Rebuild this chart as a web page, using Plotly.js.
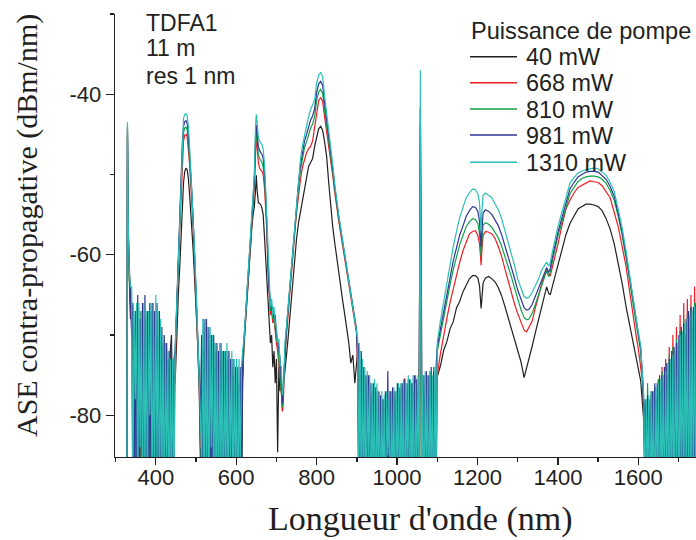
<!DOCTYPE html>
<html>
<head>
<meta charset="utf-8">
<script src="https://cdn.plot.ly/plotly-3.0.1.min.js"></script>
<style>html,body{margin:0;padding:0;background:#fff;}#chart{width:696px;height:540px;}</style>
</head>
<body>
<div id="chart"></div>
<script>
// ---------- DATA ----------
// wavelength grid (nm), written segment by segment
const wavelength = [].concat(
  [328, 329.5, 331, 334, 337],
  [340,343,346,349,352,355,358,361,364,367,370,373,376,379,382,385,388,391,394,397,400,403,406,409,412,415,418,421,424,427,430,433,436,439,442,445],
  [448,452,456,460,463,466,469,472,475,478,481,484,487,490,493,496,500,504,508,511],
  [514,517,520,523,526,529,532,535,538,541,544,547,550,553,556,559,562,565,568,571,574,577,580,583,586,589,592,595,598,601,604,607,610,613,616],
  [619,623,627,631,635,639,642,645,648,650,652,655,658,661,664,667,670,673,676,679],
  [682,685,688,691,694,697,700,703,706,709,712,715,718,721],
  [724,728,732,736,740,745,750,755,760,765,770,775,780,785,790,795,800,805,810,815,820,825,830,835,840,845,850,855,860,865,870,875,880,885,890,895,899],
  [902,905,908,911,914,917,920,923,926,929,932,935,938,941,944,947,950,953,956,959,962,965,968,971,974,977,980,983,986,989,992,995,998,1001,1004,1007,1010,1013,1016,1019,1022,1025,1028,1031,1034,1037,1040,1043,1046,1049,1052,1055,1058,1061,1064,1067,1070,1073,1076,1079,1082,1085,1088,1091,1094,1097],
  [1100,1108,1116,1124,1132,1140,1148,1156,1164,1172,1180,1188,1195,1201,1205,1207,1209,1211,1214,1220,1228,1236,1244,1252,1260,1268,1276,1284,1292,1300,1308,1316,1322,1328,1336,1344,1352,1360,1366,1372,1377,1381,1386,1392,1400,1410,1420,1430,1440,1450,1460,1470,1480,1490,1500,1510,1520,1530,1540,1550,1560,1570,1578,1586,1594,1600,1606,1611],
  [1614,1617,1620,1623,1626,1629,1632,1635,1638,1641,1644,1647,1650,1653,1656,1659,1662,1665,1668,1671,1674,1677,1680,1683,1686,1689,1692,1695,1698,1701,1704,1707,1710,1713,1716,1719,1722,1725,1728,1731,1734,1737,1740,1743]
);

// ASE (dBm/nm) for each pump power
const ase_40mW = [].concat(
  [-95,-45,-58,-65,-68],
  [-67,-72,-95,-70,-90,-73,-95,-71,-92,-74,-95,-72,-90,-75,-95,-73,-92,-74,-95,-72,-90,-75,-95,-74,-92,-73,-95,-72,-90,-74,-73,-95,-72,-70,-93,-75],
  [-76,-70,-65,-61,-57.5,-54,-51,-49.6,-49.2,-49.4,-50.5,-52.5,-54.5,-57,-59.5,-62.5,-66.5,-71,-77,-86],
  [-78,-90,-74,-95,-75,-92,-74,-95,-76,-90,-75,-95,-76,-92,-77,-95,-76,-90,-77,-95,-78,-92,-77,-95,-78,-90,-77,-95,-78,-92,-79,-95,-78,-90,-76],
  [-71.5,-68.5,-65.3,-62.3,-59.3,-56.5,-55,-54,-52,-50.1,-52,-53.5,-53.6,-53.8,-54.2,-55,-57.5,-60,-63,-66],
  [-68,-71,-70,-74,-72,-76,-73,-84.6,-74,-77,-75,-79.5,-76,-74],
  [-73,-71,-68.5,-66,-63.5,-60.5,-58,-56,-54.5,-53.3,-51.5,-50,-49,-48.5,-48,-46.5,-45.3,-44.3,-44,-44.5,-46,-47.8,-51,-54,-56.5,-58.5,-60.5,-62.3,-64,-65.8,-67.5,-69.2,-71,-73.5,-72.5,-76,-74],
  [-72,-90,-75,-95,-76,-92,-77,-95,-78,-90,-79,-95,-78,-92,-79,-95,-80,-90,-79,-95,-80,-92,-79,-95,-80,-90,-79,-95,-78,-92,-79,-95,-78,-90,-78,-95,-78,-92,-77,-95,-78,-90,-77,-95,-78,-92,-77,-95,-78,-90,-77,-92,-48,-95,-77,-90,-78,-95,-77,-92,-78,-95,-80,-90,-82,-78],
  [-75.2,-73.8,-71.9,-70.8,-69.2,-68.3,-66.6,-65.8,-64.6,-63.8,-63.0,-62.6,-62.6,-62.9,-63.8,-65.2,-66.7,-65.5,-63.5,-62.9,-62.7,-63.0,-63.4,-64.1,-65.1,-66.4,-67.8,-69.2,-70.6,-72.0,-73.3,-75.3,-74.2,-73.2,-71.4,-69.7,-68.0,-66.3,-65.1,-64.0,-64.8,-65.0,-64.0,-62.8,-61.3,-59.3,-57.5,-56.1,-55.1,-54.3,-54.0,-53.7,-53.7,-53.8,-54.0,-54.5,-55.5,-56.8,-58.6,-60.9,-63.6,-66.6,-68.7,-70.7,-72.6,-74.0,-75.7,-79],
  [-81,-90,-79,-95,-80,-92,-79,-95,-78,-90,-78,-95,-77,-92,-77,-95,-76,-90,-75,-95,-75,-92,-74,-95,-73,-90,-73,-95,-72,-92,-71,-95,-71,-90,-70,-95,-70,-92,-69,-95,-69,-90,-68,-95]
);

const ase_668mW = [].concat(
  [-95,-44.5,-57,-64,-67],
  [-68,-93,-70,-88,-95,-69,-90,-72,-94,-70,-86,-95,-71,-90,-75,-94,-95,-72,-88,-70,-93,-72,-90,-95,-73,-92,-74,-88,-95,-75,-92,-76,-95,-78,-90,-80],
  [-73,-67,-61,-56.5,-52,-48,-45.8,-45.1,-45,-45.3,-46.7,-48.7,-51.3,-53.8,-56.5,-60.5,-65.5,-70.5,-76,-84],
  [-75,-95,-72,-93,-95,-72,-90,-73,-95,-72,-88,-74,-95,-73,-90,-75,-94,-74,-95,-75,-88,-74,-95,-76,-90,-75,-95,-77,-92,-76,-95,-77,-90,-76,-75],
  [-71.2,-68.2,-65,-62,-59,-56,-54,-51.5,-47.5,-45.5,-46.5,-48.5,-49.2,-49.4,-49.6,-50,-51.5,-54,-57,-62],
  [-65.5,-67.5,-67,-68.5,-68,-70,-71,-72,-73.5,-75,-77,-79.5,-77,-72.5],
  [-70.5,-68,-65.5,-63,-60.5,-57.5,-54.8,-52.5,-50.5,-49,-48,-47.3,-46.8,-46.5,-45.8,-44.2,-42,-40.8,-40.4,-40.9,-42.9,-44.6,-46.3,-48.2,-50.1,-52.2,-54.3,-55.8,-57.4,-59,-60.6,-62.2,-63.8,-65.3,-66.9,-68.5,-69.7],
  [-74,-95,-90,-75,-94,-88,-76,-95,-90,-77,-93,-88,-78,-95,-90,-78,-94,-88,-79,-95,-90,-79,-93,-88,-78,-95,-90,-78,-94,-88,-77.5,-95,-90,-77,-93,-88,-77,-95,-90,-75.4,-94,-88,-76.5,-95,-90,-76,-93,-88,-76,-95,-90,-77,-44,-88,-76,-94,-90,-75.5,-95,-88,-75,-93,-90,-75,-95,-88],
  [-75.0,-72.3,-69.9,-67.9,-65.9,-64.1,-62.3,-60.9,-59.5,-58.5,-57.4,-57.1,-57.0,-57.6,-58.6,-59.8,-61.3,-59.5,-57.6,-57.1,-57.2,-57.4,-58.0,-59.0,-60.2,-61.7,-63.2,-64.6,-66.1,-67.3,-68.4,-69.4,-69.6,-69.1,-68.3,-66.6,-65.0,-63.6,-62.6,-61.9,-62.6,-62.6,-61.6,-60.4,-58.7,-56.4,-54.3,-53.2,-52.3,-51.6,-51.3,-51.0,-50.8,-50.9,-51.0,-51.4,-52.1,-52.9,-54.7,-56.5,-59.0,-61.6,-64.4,-67.3,-69.9,-71.7,-73.9,-76],
  [-80,-95,-90,-78,-94,-88,-77.5,-95,-90,-76.5,-93,-88,-75.5,-95,-90,-74,-94,-88,-73,-95,-90,-71.5,-93,-88,-70,-95,-90,-69,-94,-88,-67.5,-95,-90,-66,-93,-88,-65.5,-95,-90,-65,-94,-88,-64,-95]
);

const ase_810mW = [].concat(
  [-95,-44.2,-56,-63,-65],
  [-66,-85,-69,-94,-68,-72,-95,-67,-90,-68,-80,-93,-68,-88,-70,-95,-67,-82,-92,-68,-90,-70,-94,-68,-86,-95,-71,-90,-72,-94,-73,-88,-74,-95,-75,-90],
  [-72.5,-66.5,-60.5,-56,-51,-47,-44.8,-44.2,-44.1,-44.4,-45.8,-47.8,-50.5,-53,-56,-60,-65,-70,-75.5,-82],
  [-72,-85,-95,-69,-90,-70,-80,-94,-70,-88,-71,-95,-72,-90,-82,-73,-95,-72,-88,-73,-94,-73,-90,-74,-95,-74,-86,-75,-93,-75,-90,-76,-95,-75,-74],
  [-71,-68,-64.8,-61.8,-58.8,-55.8,-53.8,-51,-46.5,-44.6,-45.6,-47.5,-48,-48.2,-48.5,-49,-50.5,-53,-56,-61],
  [-65,-67,-66,-68,-67.5,-69,-70.5,-71,-73,-74,-76,-79,-76,-72],
  [-70,-67.5,-65,-62.5,-60,-57,-54,-51.6,-49.4,-47.8,-46.6,-45.9,-45,-44.2,-43.7,-42.8,-40.8,-39.7,-39.4,-39.9,-42,-43.8,-45.6,-47.6,-49.6,-51.8,-54,-55.5,-57.1,-58.7,-60.3,-61.9,-63.5,-65,-66.6,-68.2,-69.4],
  [-72,-85,-94,-73,-90,-95,-75,-88,-94,-76,-90,-95,-77,-86,-93,-77,-90,-95,-78,-88,-94,-78,-90,-95,-78,-86,-93,-77,-90,-95,-77,-88,-94,-76,-90,-95,-76,-86,-93,-76,-90,-95,-75.5,-88,-94,-76,-90,-95,-75,-86,-93,-76,-41.7,-95,-75,-88,-94,-75,-90,-95,-74.5,-86,-93,-74,-90,-95],
  [-72.0,-69.8,-67.8,-65.7,-63.7,-61.8,-60.2,-58.7,-57.6,-56.5,-55.9,-55.5,-55.6,-56.1,-57.3,-58.8,-60.2,-58.3,-56.3,-56.0,-56.2,-56.6,-57.2,-57.9,-58.9,-60.1,-61.3,-62.7,-64.1,-65.6,-66.8,-67.8,-68.1,-68.0,-67.3,-66.2,-65.0,-63.7,-62.8,-62.0,-62.7,-62.2,-60.9,-59.5,-57.7,-55.9,-54.0,-52.4,-51.6,-50.9,-50.5,-50.3,-50.2,-50.2,-50.3,-50.6,-51.1,-52.0,-53.2,-55.2,-57.6,-60.5,-63.0,-65.8,-68.6,-70.3,-72.0,-76],
  [-79,-86,-94,-76,-90,-95,-77,-88,-94,-76.5,-90,-95,-75.5,-86,-93,-74.5,-90,-95,-74,-88,-94,-72.5,-90,-95,-71.5,-86,-93,-70.5,-90,-95,-69.5,-88,-94,-68,-90,-95,-67.5,-86,-93,-66.5,-90,-95,-66,-88]
);

const ase_981mW = [].concat(
  [-95,-44,-56,-63,-66],
  [-70,-66,-92,-67,-88,-65,-94,-68,-85,-66,-92,-65,-90,-67,-95,-66,-87,-66,-93,-67,-90,-66,-95,-67,-88,-69,-94,-70,-90,-71,-95,-72,-88,-71,-94,-73],
  [-72,-66,-60,-55.5,-50.5,-46,-44,-43.4,-43.3,-43.6,-45,-47,-50,-52.5,-55.5,-59.5,-64.5,-69.5,-75,-81],
  [-70,-93,-68,-90,-68,-95,-69,-88,-70,-94,-70,-90,-71,-95,-72,-86,-71,-93,-72,-90,-72,-95,-72,-88,-73,-94,-73,-90,-74,-95,-74,-88,-74,-93,-73],
  [-70.8,-67.8,-64.6,-61.6,-58.6,-55.6,-53.5,-50.5,-45.5,-43.8,-44.8,-46.5,-47,-47.2,-47.5,-48,-49.5,-52.3,-55.5,-60.5],
  [-64.5,-66,-67,-66.5,-68,-67.5,-70,-70.5,-72,-73,-75.5,-78.5,-75.5,-71.5],
  [-69.8,-67.3,-64.8,-62.3,-59.8,-56.6,-53.6,-51,-48.7,-47,-45.8,-45,-44,-43.2,-42.7,-41.8,-39.8,-38.7,-38.4,-38.9,-41.2,-43.1,-45,-47.1,-49.2,-51.5,-53.7,-55.3,-56.9,-58.5,-60.1,-61.7,-63.3,-64.8,-66.4,-68,-69.2],
  [-73,-71,-92,-72,-88,-74,-95,-75,-90,-75,-94,-76,-88,-76,-95,-76.5,-90,-77,-93,-77.5,-95,-78,-88,-77,-94,-74.5,-90,-77,-95,-76.5,-88,-77,-93,-76,-90,-76.5,-95,-76,-88,-75.5,-94,-76,-90,-75.5,-95,-76,-88,-75,-93,-75.5,-90,-76,-41.7,-75,-95,-75,-88,-74.5,-93,-75,-90,-74,-95,-74.5,-88,-74],
  [-71.5,-69.2,-67.0,-64.8,-62.7,-60.7,-59.1,-57.5,-56.4,-55.2,-54.5,-54.0,-54.1,-54.6,-55.8,-57.5,-59.0,-57,-54.8,-54.4,-54.6,-55.0,-55.7,-56.4,-57.5,-58.8,-60.0,-61.4,-62.9,-64.4,-65.6,-66.6,-66.9,-66.8,-66.2,-65.2,-64.2,-63.0,-62.2,-61.6,-62.2,-61.7,-60.4,-59.0,-57.2,-55.4,-53.5,-51.8,-51.0,-50.3,-50.0,-49.7,-49.6,-49.6,-49.7,-50.1,-50.6,-51.5,-52.7,-54.8,-57.2,-60.1,-62.7,-65.5,-68.3,-70.0,-71.7,-75.5],
  [-80,-78,-93,-77.5,-90,-78,-95,-77,-88,-76,-94,-76,-90,-75,-95,-75,-88,-74,-93,-73.5,-90,-73,-95,-72,-88,-71.5,-94,-71,-90,-70,-95,-69,-88,-68.5,-93,-68,-90,-67,-95,-66.5,-88,-66.5,-93,-66]
);

const ase_1310mW = [].concat(
  [-95,-43.5,-55,-62,-64],
  [-64,-90,-67,-78,-66,-93,-66,-84,-67,-95,-66,-88,-67,-92,-67,-80,-66,-94,-66,-90,-65,-86,-67,-95,-68,-90,-70,-93,-71,-88,-72,-95,-73,-90,-73,-92],
  [-72,-66,-60,-55,-50,-45,-43,-42.5,-42.4,-42.7,-44,-46.5,-49.5,-52,-55,-59,-64,-69,-74,-80],
  [-88,-68,-92,-68,-90,-69,-95,-69,-84,-70,-93,-71,-90,-71,-95,-71,-88,-72,-94,-72,-90,-71,-95,-72,-86,-72,-93,-73,-90,-73,-95,-73,-88,-74,-72],
  [-70.6,-67.6,-64.4,-61.4,-58.4,-55.4,-53.2,-50,-44,-42.5,-43.5,-45.3,-45.8,-46,-46.3,-46.8,-48.5,-51.5,-55,-60],
  [-64,-66.5,-65.5,-67.5,-66.5,-68.5,-69,-71,-70.5,-73.5,-74,-77.5,-76,-71],
  [-69.5,-67,-64.5,-62,-59.5,-56.3,-53.2,-50.5,-48,-46.3,-45,-44,-42.8,-41.9,-41.4,-40.7,-38.6,-37.6,-37.3,-37.8,-40.3,-42.3,-44.4,-46.6,-48.8,-51.2,-53.5,-55.1,-56.7,-58.3,-59.9,-61.5,-63.1,-64.6,-66.2,-67.8,-69],
  [-70.5,-88,-72,-93,-73,-90,-74,-95,-74.5,-86,-75,-94,-76,-90,-75.5,-95,-76,-88,-77,-93,-77,-90,-77.5,-95,-77,-85,-78,-94,-77,-90,-76.5,-95,-77,-88,-76,-93,-76,-90,-75.5,-95,-76,-87,-75,-94,-75.5,-90,-75,-95,-76,-88,-75,-90,-37,-92,-75,-95,-74.5,-88,-75,-94,-74.5,-90,-75,-95,-74,-88],
  [-70.9,-68.2,-65.8,-63.4,-61.1,-58.9,-57.1,-55.3,-54.1,-52.9,-52.3,-51.8,-51.9,-52.4,-53.5,-55,-57,-54.5,-52.6,-52.3,-52.6,-52.9,-53.7,-54.4,-55.5,-56.9,-58.2,-59.7,-61.3,-63.0,-64.1,-65.2,-65.4,-65.3,-64.7,-63.9,-63.0,-61.9,-61.3,-60.9,-61.4,-61.0,-59.7,-58.3,-56.5,-54.7,-52.8,-51.1,-50.4,-49.8,-49.6,-49.4,-49.3,-49.2,-49.3,-49.7,-50.1,-51.0,-52.1,-54.3,-56.7,-59.7,-62.4,-65.2,-68.0,-69.7,-71.3,-75],
  [-78,-92,-78,-88,-77.5,-95,-77,-90,-77,-94,-76.5,-88,-76,-95,-75.5,-90,-75,-93,-74.5,-88,-73.5,-95,-73,-90,-72.5,-94,-72,-88,-71,-95,-70,-90,-69.5,-93,-68.5,-88,-68,-95,-67.5,-90,-67,-93,-66.5,-88]
);

const seriesNames  = ['40 mW', '668 mW', '810 mW', '981 mW', '1310 mW'];
const seriesValues = [ase_40mW, ase_668mW, ase_810mW, ase_981mW, ase_1310mW];
const seriesColors = ['#231f20', '#ed1c24', '#12a04c', '#2e3592', '#2cbfb5'];

const xTickVals = [400, 600, 800, 1000, 1200, 1400, 1600];
const xTickText = ['400', '600', '800', '1000', '1200', '1400', '1600'];
const yTickVals = [-80, -60, -40];
const yTickText = ['-80', '-60', '-40'];
const xTitle = "Longueur d'onde (nm)";
const yTitle = 'ASE contra-propagative (dBm/nm)';
const legendTitle = 'Puissance de pompe';
const noteLines = ['TDFA1', '11 m', 'res 1 nm'];

// ---------- LAYOUT ----------
seriesValues.forEach((v, i) => {
  if (v.length !== wavelength.length) throw new Error('length mismatch ' + seriesNames[i] + ' ' + v.length + ' vs ' + wavelength.length);
});

const W = 696, H = 540;
const M = {l: 115, r: 0, t: 14, b: 83};
const PW = W - M.l - M.r, PH = H - M.t - M.b;
const fx = px => (px - M.l) / PW;          // pixel -> paper x
const fy = py => (H - M.b - py) / PH;      // pixel -> paper y
const INK = '#231f20';
const SANS = 'Liberation Sans, Arial, sans-serif';
const SERIF = 'Liberation Serif, Times New Roman, serif';

const traces = seriesValues.map((v, i) => ({
  type: 'scatter', mode: 'lines', name: seriesNames[i],
  x: wavelength, y: v,
  line: {color: seriesColors[i], width: 1.2},
  showlegend: false, hoverinfo: 'skip'
}));

const annotations = [];
const shapes = [];
// axis titles
annotations.push({
  xref: 'paper', yref: 'paper', x: fx(420), y: fy(519), xanchor: 'center', yanchor: 'middle',
  text: xTitle, showarrow: false, font: {family: SERIF, size: 34, color: INK}
});
annotations.push({
  xref: 'paper', yref: 'paper', x: fx(27), y: fy(226), xanchor: 'center', yanchor: 'middle', textangle: -90,
  text: yTitle, showarrow: false, font: {family: SERIF, size: 30, color: INK}
});
// note block
const noteY = [23, 48, 76];
noteLines.forEach((t, i) => annotations.push({
  xref: 'paper', yref: 'paper', x: fx(144), y: fy(noteY[i]), xanchor: 'left', yanchor: 'middle',
  text: t, showarrow: false, font: {family: SANS, size: 23, color: INK}
}));
// legend (title + entries)
annotations.push({
  xref: 'paper', yref: 'paper', x: fx(469), y: fy(30.5), xanchor: 'left', yanchor: 'middle',
  text: legendTitle, showarrow: false, font: {family: SANS, size: 23.6, color: INK}
});
const legY = [56.7, 82.7, 109, 135, 162.3];
seriesNames.forEach((n, i) => {
  shapes.push({type: 'line', xref: 'paper', yref: 'paper', x0: fx(470), x1: fx(517), y0: fy(legY[i]), y1: fy(legY[i]),
               line: {color: seriesColors[i], width: 1.4}});
  annotations.push({
    xref: 'paper', yref: 'paper', x: fx(524), y: fy(legY[i] + 0.5), xanchor: 'left', yanchor: 'middle',
    text: n, showarrow: false, font: {family: SANS, size: 23.4, color: INK}
  });
});

const layout = {
  width: W, height: H,
  margin: M,
  paper_bgcolor: '#fff', plot_bgcolor: '#fff',
  showlegend: false,
  font: {family: SANS, color: INK},
  xaxis: {
    range: [298.5, 1743.5], showgrid: false, zeroline: false,
    showline: true, linecolor: INK, linewidth: 1.3,
    ticks: 'outside', ticklen: 7, tickwidth: 1.3, tickcolor: INK,
    tickmode: 'array', tickvals: xTickVals, ticktext: xTickText,
    ticklabelstandoff: -7,
    minor: {tickmode: 'linear', tick0: 300, dtick: 100, ticks: 'outside', ticklen: 4, tickwidth: 1.3, tickcolor: INK, showgrid: false},
    tickfont: {family: SANS, size: 22, color: INK},
    automargin: false
  },
  yaxis: {
    range: [-85.2, -30], showgrid: false, zeroline: false,
    showline: true, linecolor: INK, linewidth: 1.3,
    ticks: 'outside', ticklen: 8, tickwidth: 1.3, tickcolor: INK,
    tickmode: 'array', tickvals: yTickVals, ticktext: yTickText,
    minor: {tickmode: 'array', tickvals: [-70, -50, -30], ticks: 'outside', ticklen: 4, tickwidth: 1.3, tickcolor: INK, showgrid: false},
    tickfont: {family: SANS, size: 22, color: INK},
    automargin: false
  },
  annotations: annotations,
  shapes: shapes
};

Plotly.newPlot('chart', traces, layout, {displayModeBar: false, staticPlot: true});
</script>
</body>
</html>
